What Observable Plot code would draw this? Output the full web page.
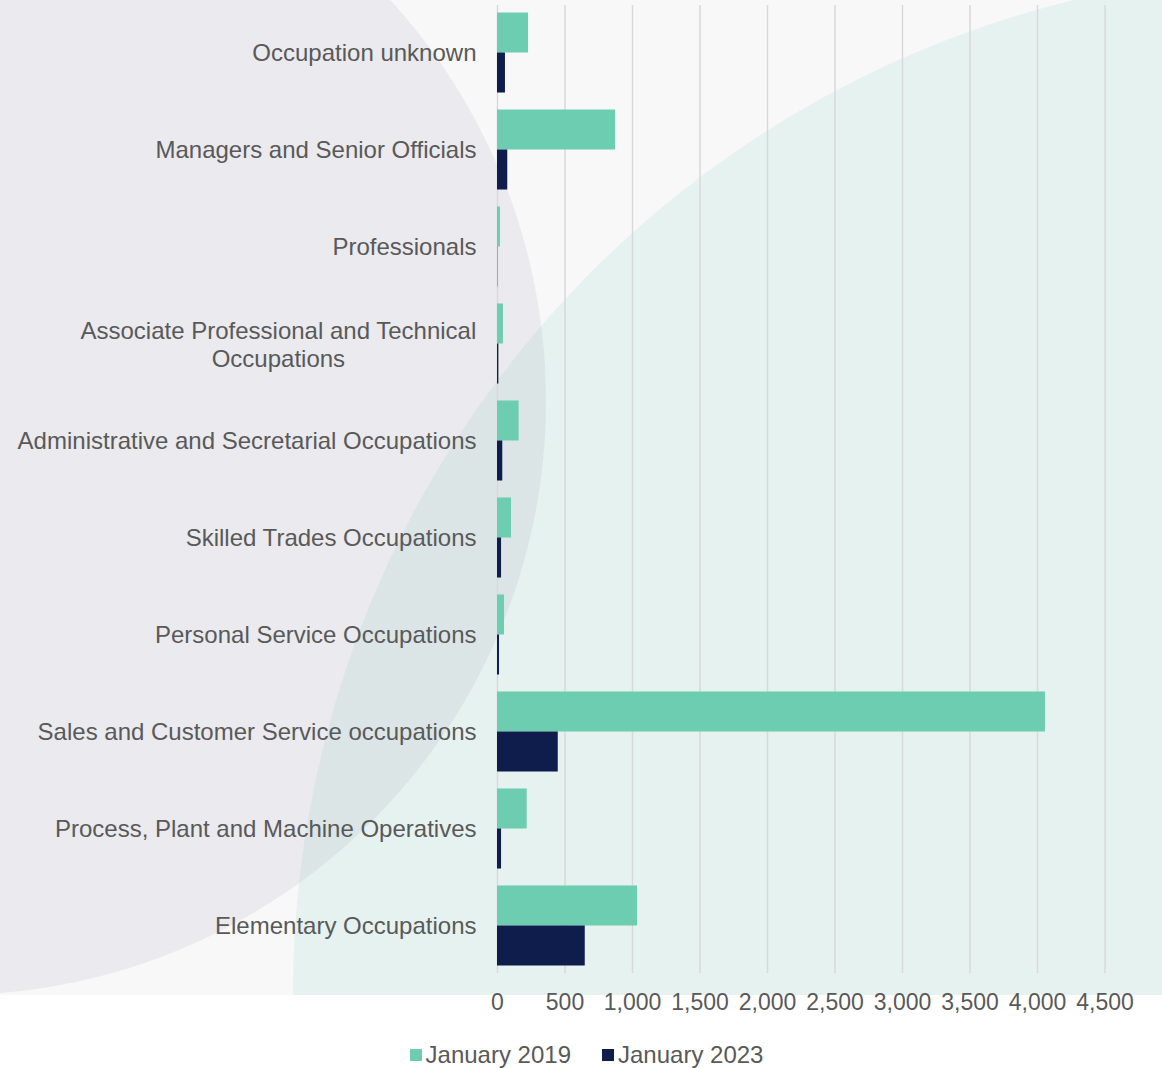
<!DOCTYPE html>
<html>
<head>
<meta charset="utf-8">
<script src="https://cdn.jsdelivr.net/npm/d3@7"></script>
<script src="https://cdn.jsdelivr.net/npm/@observablehq/plot@0.6"></script>
<style>
  html, body { margin: 0; padding: 0; background: #ffffff; }
  #wrap {
    position: relative;
    width: 1162px;
    font-family: "Liberation Sans", Arial, sans-serif;
    background:
      radial-gradient(circle 594px at -48px 401px, rgba(166,160,185,0.16) 593.5px, rgba(166,160,185,0) 594.5px),
      radial-gradient(circle 1023px at 1316px 994px, #e6f2ef 1022.5px, rgba(230,242,239,0) 1023.5px),
      linear-gradient(#f8f8f8, #f8f8f8);
    background-size: 1162px 995px, 1162px 995px, 1162px 995px;
    background-repeat: no-repeat;
  }
  #legend {
    display: flex;
    justify-content: center;
    align-items: center;
    gap: 31px;
    padding-top: 15px;
    padding-left: 11px;
    height: 30px;
    line-height: 30px;
    font-size: 24px;
    color: #595959;
  }
  #legend .item { display: flex; align-items: center; gap: 4px; }
  #legend .sw { width: 12px; height: 12px; display: inline-block; }
</style>
</head>
<body>
<div id="wrap"><div id="chart"></div><div id="legend"></div></div>
<script>
// ---- data ----
const categories = [
  "Occupation unknown",
  "Managers and Senior Officials",
  "Professionals",
  "Associate Professional and Technical Occupations",
  "Administrative and Secretarial Occupations",
  "Skilled Trades Occupations",
  "Personal Service Occupations",
  "Sales and Customer Service occupations",
  "Process, Plant and Machine Operatives",
  "Elementary Occupations"
];
const jan2019 = [230, 874, 22, 44, 160, 104, 52, 4059, 220, 1037];
const jan2023 = [59, 76, 2, 10, 39, 30, 15, 450, 30, 650];
const seriesNames = ["January 2019", "January 2023"];
const seriesColors = ["#6dcdb1", "#0f1d4d"];
const xTicks = [0, 500, 1000, 1500, 2000, 2500, 3000, 3500, 4000, 4500];
const wrappedLabels = {
  "Associate Professional and Technical Occupations": "Associate Professional and Technical\nOccupations"
};

// ---- build ----
const rows2019 = categories.map((c, i) => ({category: c, value: jan2019[i]}));
const rows2023 = categories.map((c, i) => ({category: c, value: jan2023[i]}));

const W = 1162, H = 1025, mT = 5, mB = 52, mL = 497, mR = 57.5;
const pIn = 0.175, pOut = 0.0773;
const step = (H - mT - mB) / (categories.length - pIn + 2 * pOut);
const half = step * (1 - pIn) / 2;
const textColor = "#595959";
const font = "'Liberation Sans', Arial, sans-serif";

const ctx = document.createElement("canvas").getContext("2d");
ctx.font = "24px " + font;

const wrappedMarks = Object.entries(wrappedLabels).map(([cat, txt]) => {
  const w = d3.max(txt.split("\n"), s => ctx.measureText(s).width);
  return Plot.text([cat], {
    y: d => d, frameAnchor: "left", dx: -(21 + w / 2),
    text: () => txt, textAnchor: "middle", lineAnchor: "middle",
    lineHeight: 1.17, fontSize: 24, fill: textColor
  });
});

const chart = Plot.plot({
  width: W, height: H,
  marginTop: mT, marginBottom: mB, marginLeft: mL, marginRight: mR,
  style: {background: "transparent", fontFamily: font, fontSize: "24px", color: textColor, overflow: "visible"},
  x: {domain: [0, 4500], label: null},
  y: {domain: categories, paddingInner: pIn, paddingOuter: pOut, round: false, label: null},
  marks: [
    Plot.gridX(xTicks, {stroke: "#d9d9d9", strokeOpacity: 1, strokeWidth: 1.5}),
    Plot.barX(rows2019, {y: "category", x: "value", fill: seriesColors[0], insetBottom: half}),
    Plot.barX(rows2023, {y: "category", x: "value", fill: seriesColors[1], insetTop: half}),
    Plot.axisX({ticks: xTicks, tickSize: 0, tickPadding: 20, tickFormat: d3.format(","), fill: textColor, fontSize: 23, label: null}),
    Plot.axisY({tickSize: 0, tickPadding: 21, fill: textColor, fontSize: 24, label: null,
      tickFormat: d => (d in wrappedLabels ? "" : d)}),
    ...wrappedMarks
  ]
});
document.getElementById("chart").appendChild(chart);

const legend = document.getElementById("legend");
seriesNames.forEach((name, i) => {
  const item = document.createElement("div");
  item.className = "item";
  const sw = document.createElement("span");
  sw.className = "sw";
  sw.style.background = seriesColors[i];
  const t = document.createElement("span");
  t.textContent = name;
  item.appendChild(sw); item.appendChild(t);
  legend.appendChild(item);
});
</script>
</body>
</html>
